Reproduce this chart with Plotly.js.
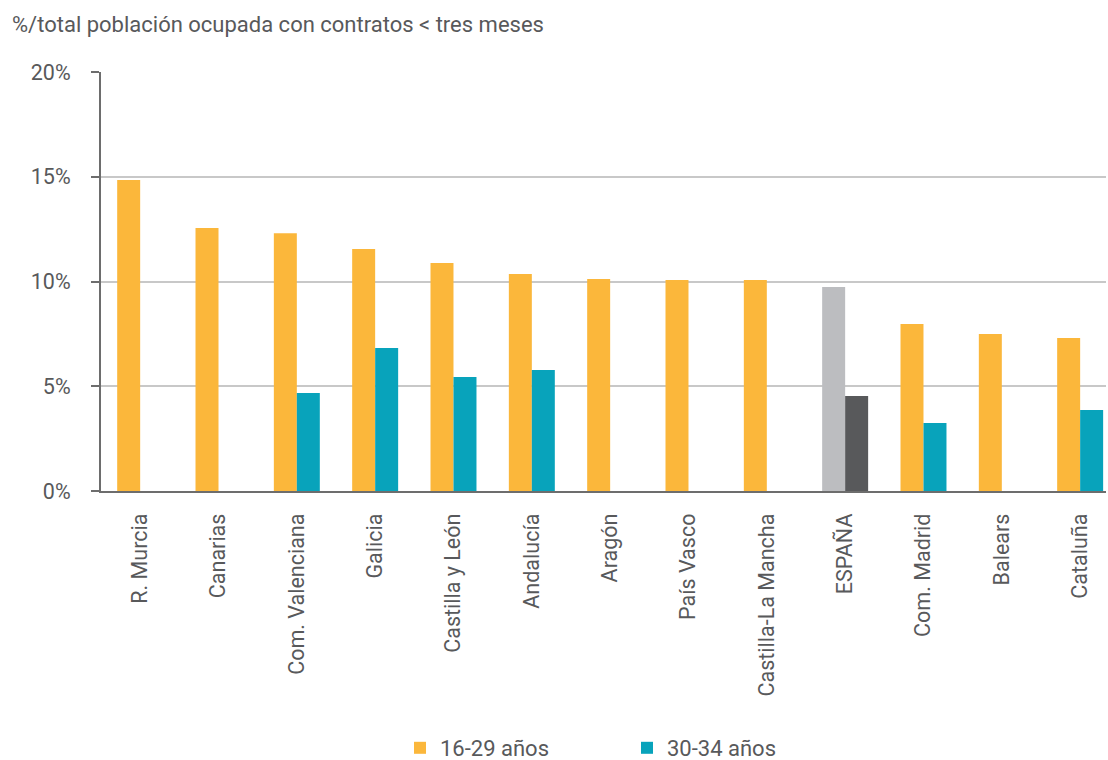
<!DOCTYPE html>
<html>
<head>
<meta charset="utf-8">
<script src="https://cdn.plot.ly/plotly-3.0.1.min.js"></script>
<style>html,body{margin:0;padding:0;background:#fff;}#chart{width:1108px;height:760px;}</style>
</head>
<body>
<div id="chart"></div>
<script>
const categories = ["R. Murcia","Canarias","Com. Valenciana","Galicia","Castilla y León","Andalucía","Aragón","País Vasco","Castilla-La Mancha","ESPAÑA","Com. Madrid","Balears","Cataluña"];
const young = [14.85, 12.55, 12.3, 11.55, 10.88, 10.36, 10.12, 10.07, 10.07, 9.74, 7.97, 7.49, 7.3];
const older = [null, null, 4.68, 6.83, 5.44, 5.78, null, null, null, 4.53, 3.25, null, 3.87];
const seriesNames = ["16-29 años", "30-34 años"];
const yTicks = [0, 5, 10, 15, 20];

const orange = "#FBB73B", teal = "#08A3BB", lightGrey = "#BCBDC0", darkGrey = "#58595B";
const youngColors = categories.map(c => c === "ESPAÑA" ? lightGrey : orange);
const olderColors = categories.map(c => c === "ESPAÑA" ? darkGrey : teal);

const font = {family: "Roboto, 'DejaVu Sans', sans-serif", color: "#58595B"};

const data = [
  {type: "bar", name: seriesNames[0], x: categories, y: young, marker: {color: youngColors}, hoverinfo: "none"},
  {type: "bar", name: seriesNames[1], x: categories, y: older, marker: {color: olderColors}, hoverinfo: "none"}
];
const layout = {
  width: 1108, height: 760,
  margin: {l: 101, r: 2, t: 72, b: 269},
  paper_bgcolor: "#fff", plot_bgcolor: "#fff",
  font: Object.assign({size: 19}, font),
  barmode: "group", bargap: 0.413, bargroupgap: 0,
  title: {text: "%/total población ocupada con contratos < tres meses", x: 12/1108, xanchor: "left", xref: "container", y: 1 - 24/760, yanchor: "middle", font: Object.assign({size: 22}, font)},
  xaxis: {type: "category", range: [-0.5, 12.33], showline: true, linecolor: "#6d6d6d", linewidth: 2, tickangle: -90, ticks: "", ticklabelstandoff: 12, showgrid: false, zeroline: false, tickfont: Object.assign({size: 21.5}, font), fixedrange: true},
  yaxis: {range: [0, 20], tickvals: yTicks, ticktext: yTicks.map(v => v + "%"), showline: true, linecolor: "#6d6d6d", linewidth: 2, ticks: "outside", ticklen: 8, tickcolor: "#6d6d6d", tickwidth: 2, showgrid: true, gridcolor: "#c8c8c8", gridwidth: 2, zeroline: false, tickfont: Object.assign({size: 21.5}, font), ticklabelstandoff: 16, fixedrange: true},
  showlegend: true,
  legend: {orientation: "h", xref: "container", yref: "container", x: 400/1108, xanchor: "left", y: 1 - 748/760, yanchor: "middle", entrywidth: 182, font: Object.assign({size: 22}, font), itemclick: false, itemdoubleclick: false}
};
Plotly.newPlot("chart", data, layout, {displayModeBar: false, staticPlot: true});
</script>
</body>
</html>
